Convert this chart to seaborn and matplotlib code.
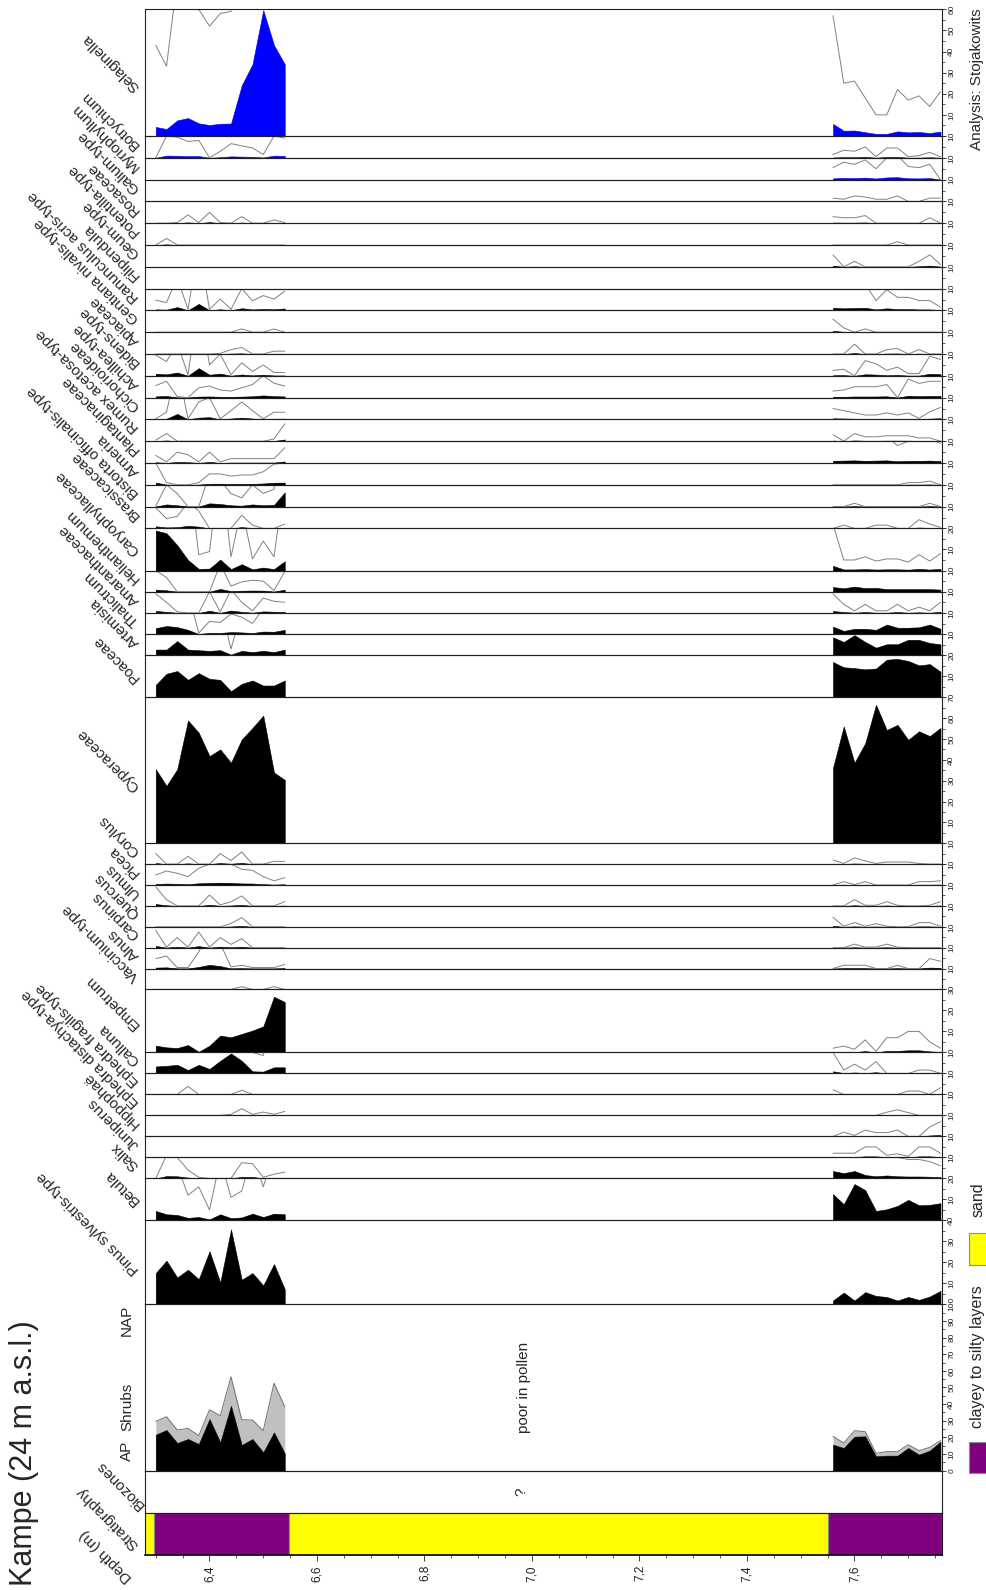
# %%
import numpy as np
import pandas as pd
import seaborn as sns
import matplotlib.pyplot as plt
from matplotlib.patches import Rectangle
from matplotlib.ticker import MultipleLocator

sns.set_style("white")
plt.rcParams['font.family'] = ['Liberation Sans', 'DejaVu Sans']

# %% sample depths (m): upper pollen-bearing block, lower block
depth_upper = [6.30, 6.32, 6.34, 6.36, 6.38, 6.40, 6.42, 6.44, 6.46, 6.48, 6.50, 6.52, 6.54]
depth_lower = [7.56, 7.58, 7.60, 7.62, 7.64, 7.66, 7.68, 7.70, 7.72, 7.74, 7.76]

# %% percentages (13 upper samples, then 11 lower samples)
selaginella = [4.3, 3.3, 7.4, 8.5, 6.0, 5.2, 5.8, 5.9, 24.0, 34.0, 59.6, 43.0, 34.0,
               5.7, 2.5, 2.6, 1.8, 1.0, 1.0, 2.2, 1.7, 1.9, 1.4, 2.1]
botrychium = [0.0, 1.0, 0.95, 0.75, 0.8, 0.0, 0.3, 0.65, 0.55, 0.45, 0.15, 1.0, 0.9,
              0.15, 0.35, 0.3, 0.5, 0.05, 0.45, 0.45, 0.05, 0.1, 0.25, 0.05]
myriophyllum = [0.0, 0.0, 0.0, 0.0, 0.0, 0.0, 0.0, 0.0, 0.0, 0.0, 0.0, 0.0, 0.0,
                0.55, 0.8, 0.7, 0.9, 0.5, 1.0, 1.1, 0.6, 0.55, 0.7, 0.0]
galium = [0.0, 0.0, 0.0, 0.0, 0.0, 0.0, 0.0, 0.0, 0.0, 0.0, 0.0, 0.0, 0.0,
          0.15, 0.1, 0.25, 0.2, 0.1, 0.1, 0.25, 0.0, 0.0, 0.15, 0.15]
rosaceae = [0.0, 0.0, 0.03, 0.38, 0.03, 0.5, 0.03, 0.0, 0.3, 0.0, 0.0, 0.15, 0.03,
            0.3, 0.25, 0.25, 0.35, 0.0, 0.0, 0.0, 0.0, 0.0, 0.25, 0.0]
potentilla = [0.0, 0.3, 0.0, 0.0, 0.0, 0.0, 0.0, 0.0, 0.0, 0.0, 0.0, 0.0, 0.0,
              0.0, 0.0, 0.0, 0.0, 0.0, 0.0, 0.15, 0.0, 0.0, 0.0, 0.0]
geum = [0.0, 0.0, 0.0, 0.0, 0.0, 0.0, 0.0, 0.0, 0.0, 0.0, 0.0, 0.0, 0.0,
        0.55, 0.0, 0.25, 0.0, 0.0, 0.0, 0.0, 0.0, 0.25, 0.55, 0.1]
filipendula = [0.0, 0.0, 0.0, 0.0, 0.0, 0.0, 0.0, 0.0, 0.0, 0.0, 0.0, 0.0, 0.0,
               0.0, 0.0, 0.0, 0.0, 0.0, 0.0, 0.0, 0.0, 0.0, 0.0, 0.0]
ranunculus = [0.47, 0.36, 1.5, 0.05, 3.0, 0.05, 0.52, 0.05, 1.0, 0.44, 0.68, 0.52, 0.88,
              1.2, 0.95, 1.1, 1.2, 0.45, 0.95, 0.6, 0.6, 0.45, 0.45, 0.15]
gentiana = [0.0, 0.0, 0.0, 0.0, 0.0, 0.0, 0.0, 0.0, 0.15, 0.0, 0.0, 0.15, 0.0,
            0.6, 0.2, 0.0, 0.15, 0.0, 0.0, 0.0, 0.0, 0.0, 0.0, 0.0]
apiaceae = [0.0, 0.0, 0.0, 0.0, 0.0, 0.0, 0.03, 0.2, 0.3, 0.0, 0.0, 0.13, 0.13,
            0.0, 0.0, 0.45, 0.0, 0.0, 0.2, 0.25, 0.0, 0.2, 0.0, 0.0]
bidens = [0.95, 0.65, 1.5, 0.05, 3.5, 0.5, 1.0, 0.05, 0.6, 0.2, 0.5, 0.15, 0.15,
          0.25, 0.3, 0.0, 0.7, 0.55, 0.25, 0.4, 0.1, 0.1, 0.9, 0.75]
achillea = [0.55, 0.75, 0.05, 0.0, 0.45, 0.53, 0.35, 0.3, 0.45, 0.6, 1.0, 0.66, 0.53,
            0.3, 0.35, 0.5, 0.5, 0.5, 0.6, 0.0, 0.85, 0.65, 0.75, 0.75]
cichorioideae = [0.03, 0.33, 2.5, 0.03, 0.8, 1.0, 0.03, 0.4, 0.8, 0.4, 0.03, 0.33, 0.33,
                 0.5, 0.4, 0.3, 0.2, 0.2, 0.3, 0.2, 0.3, 0.05, 0.35, 0.55]
rumex = [0.05, 0.35, 0.0, 0.0, 0.0, 0.0, 0.0, 0.0, 0.0, 0.0, 0.0, 0.1, 0.8,
         0.3, 0.0, 0.35, 0.2, 0.2, 0.25, 0.25, 0.25, 0.15, 0.15, 0.0]
plantaginaceae = [0.35, 0.05, 0.5, 0.38, 0.05, 0.5, 0.05, 0.2, 0.2, 0.2, 0.2, 0.2, 0.7,
                  1.0, 1.1, 1.2, 1.0, 1.1, 1.2, 0.8, 1.0, 1.0, 1.1, 0.9]
armeria = [1.0, 0.1, 0.0, 0.0, 0.1, 0.5, 0.5, 0.4, 0.45, 0.45, 0.6, 0.95, 1.0,
           0.0, 0.0, 0.0, 0.0, 0.0, 0.0, 0.0, 0.1, 0.1, 0.17, 0.0]
bistorta = [0.03, 1.0, 0.6, 0.0, 0.0, 1.5, 1.2, 0.6, 0.4, 1.0, 0.6, 0.8, 6.5,
            0.0, 0.0, 0.15, 0.0, 0.0, 0.0, 0.0, 0.0, 0.0, 0.15, 0.0]
brassicaceae = [0.95, 0.45, 0.55, 1.2, 0.8, 0.0, 0.0, 0.0, 0.6, 0.15, 0.0, 0.0, 0.2,
                0.0, 0.15, 0.0, 0.0, 0.15, 0.15, 0.0, 0.0, 0.4, 0.2, 0.05]
caryophyllaceae = [19.0, 17.7, 12.0, 5.0, 0.75, 0.9, 5.2, 0.65, 3.0, 0.55, 1.4, 0.65, 4.4,
                   2.2, 0.5, 0.5, 0.65, 0.45, 0.55, 0.55, 0.4, 0.75, 0.45, 0.8]
helianthemum = [1.0, 0.67, 0.0, 0.0, 0.0, 0.0, 1.3, 0.27, 0.46, 0.54, 0.5, 0.06, 0.95,
                2.2, 1.6, 2.4, 1.7, 1.8, 1.2, 1.2, 1.2, 1.2, 1.2, 1.0]
amaranthaceae = [0.9, 0.5, 0.05, 0.0, 0.0, 1.0, 0.05, 1.1, 0.5, 0.1, 0.7, 0.55, 0.5,
                 0.9, 0.4, 0.1, 0.4, 0.1, 0.1, 0.4, 0.1, 0.27, 0.1, 0.5]
thalictrum = [2.8, 3.8, 3.3, 2.0, 0.05, 0.6, 0.55, 0.95, 0.8, 0.5, 1.2, 1.1, 2.0,
              3.5, 1.5, 2.5, 2.5, 2.0, 4.5, 3.0, 3.0, 3.2, 4.5, 2.5]
artemisia = [2.7, 2.7, 6.7, 2.7, 2.4, 2.1, 2.4, 0.3, 2.1, 1.5, 2.1, 1.5, 2.7,
             8.5, 6.3, 9.5, 6.3, 3.6, 5.2, 5.2, 7.3, 7.3, 5.8, 5.2]
poaceae = [5.9, 11.2, 12.5, 8.3, 11.5, 8.8, 8.3, 2.9, 6.4, 8.0, 5.6, 5.6, 8.0,
           16.8, 14.3, 13.9, 13.3, 13.7, 17.9, 18.3, 17.3, 15.2, 15.8, 12.2]
cyperaceae = [35.5, 27.5, 35.5, 58.9, 53.0, 41.8, 45.0, 38.6, 49.8, 55.3, 61.2, 33.9, 30.4,
              36.2, 56.0, 38.6, 48.0, 66.4, 54.3, 56.8, 49.6, 53.7, 51.4, 55.3]
corylus = [0.5, 0.0, 0.0, 0.37, 0.0, 0.0, 0.5, 0.17, 0.58, 0.0, 0.0, 0.13, 0.13,
           0.2, 0.03, 0.3, 0.15, 0.03, 0.1, 0.1, 0.1, 0.03, 0.0, 0.0]
picea = [0.48, 0.67, 0.56, 0.4, 0.8, 1.0, 1.1, 1.0, 0.75, 0.7, 0.4, 0.2, 0.35,
         0.0, 0.16, 0.02, 0.16, 0.0, 0.0, 0.0, 0.0, 0.16, 0.16, 0.2]
ulmus = [0.9, 0.3, 0.0, 0.0, 0.0, 0.52, 0.05, 0.2, 0.48, 0.0, 0.0, 0.0, 0.2,
         0.0, 0.0, 0.3, 0.03, 0.03, 0.2, 0.03, 0.0, 0.0, 0.03, 0.2]
quercus = [0.0, 0.0, 0.0, 0.0, 0.0, 0.0, 0.0, 0.16, 0.44, 0.0, 0.0, 0.0, 0.0,
           0.45, 0.03, 0.2, 0.03, 0.15, 0.03, 0.0, 0.0, 0.2, 0.2, 0.03]
carpinus = [0.83, 0.03, 0.48, 0.03, 0.75, 0.03, 0.48, 0.16, 0.43, 0.0, 0.0, 0.0, 0.0,
            0.0, 0.0, 0.17, 0.03, 0.03, 0.17, 0.03, 0.0, 0.0, 0.0, 0.0]
alnus = [0.48, 0.6, 0.05, 0.05, 0.8, 1.8, 1.2, 0.08, 0.16, 0.05, 0.05, 0.05, 0.2,
         0.0, 0.16, 0.16, 0.16, 0.0, 0.0, 0.16, 0.0, 0.0, 0.48, 0.35]
vaccinium = [0.0, 0.0, 0.0, 0.0, 0.0, 0.0, 0.0, 0.0, 0.13, 0.0, 0.0, 0.13, 0.0,
             0.0, 0.0, 0.0, 0.0, 0.0, 0.0, 0.0, 0.0, 0.0, 0.0, 0.0]
empetrum = [3.2, 2.4, 2.1, 3.5, 0.3, 3.2, 8.0, 7.2, 8.8, 10.4, 12.4, 26.5, 24.0,
            0.2, 0.3, 0.15, 0.6, 0.05, 0.7, 0.7, 1.0, 1.0, 0.5, 0.2]
calluna = [3.3, 3.6, 4.1, 1.6, 4.1, 2.1, 6.0, 9.5, 6.0, 1.0, 0.85, 2.9, 2.9,
           1.0, 0.16, 0.44, 0.16, 0.56, 0.0, 0.0, 0.0, 0.16, 0.16, 0.0]
ephedra_fragilis = [0.0, 0.0, 0.0, 0.38, 0.0, 0.0, 0.0, 0.0, 0.2, 0.0, 0.0, 0.0, 0.0,
                    0.22, 0.0, 0.0, 0.0, 0.0, 0.0, 0.0, 0.16, 0.16, 0.0, 0.32]
ephedra_distachya = [0.0, 0.0, 0.0, 0.0, 0.0, 0.0, 0.0, 0.05, 0.32, 0.05, 0.16, 0.05, 0.19,
                     0.0, 0.0, 0.0, 0.0, 0.0, 0.15, 0.27, 0.13, 0.0, 0.0, 0.0]
hippophae = [0.0, 0.0, 0.0, 0.0, 0.0, 0.0, 0.0, 0.0, 0.0, 0.0, 0.0, 0.0, 0.0,
             0.0, 0.2, 0.05, 0.3, 0.18, 0.18, 0.3, 0.0, 0.0, 0.45, 0.7]
juniperus = [0.0, 0.0, 0.0, 0.0, 0.0, 0.0, 0.0, 0.0, 0.0, 0.0, 0.0, 0.0, 0.0,
             0.2, 0.2, 0.2, 0.5, 0.5, 0.1, 0.17, 0.05, 0.5, 0.5, 0.2]
salix = [0.0, 1.1, 1.0, 0.4, 0.05, 0.0, 0.0, 0.0, 0.75, 0.7, 0.05, 0.2, 0.3,
         3.5, 2.5, 3.5, 1.6, 1.0, 1.4, 1.0, 0.9, 0.9, 0.8, 0.6]
betula = [4.5, 2.9, 2.6, 1.2, 1.6, 0.5, 2.9, 1.1, 1.4, 3.2, 1.6, 3.2, 2.9,
          12.5, 7.7, 17.3, 14.4, 4.5, 5.3, 6.9, 9.8, 7.2, 7.4, 8.2]
pinus = [14.9, 20.8, 12.8, 16.5, 12.0, 25.3, 10.4, 35.7, 11.7, 14.9, 9.0, 19.2, 7.2,
         1.8, 5.6, 1.8, 5.8, 4.0, 3.5, 1.8, 3.5, 2.1, 3.7, 6.4]

# summary diagram: trees (AP) and shrubs
ap_trees = [21.6, 24.4, 16.6, 19.0, 16.0, 31.0, 17.0, 39.0, 15.4, 19.0, 11.0, 23.0, 10.4,
            15.6, 13.6, 20.4, 20.6, 8.6, 9.0, 9.0, 13.6, 9.6, 12.0, 17.4]
ap_shrubs = [8.0, 8.0, 7.8, 6.4, 5.0, 5.6, 16.0, 17.4, 15.2, 11.4, 13.0, 29.6, 28.0,
             5.0, 3.0, 3.6, 2.8, 1.8, 2.4, 2.4, 2.0, 2.4, 2.0, 0.6]

# lithology
strat_top = [6.28, 6.297, 6.548, 7.551]
strat_base = [6.297, 6.548, 7.551, 7.7628]
strat_unit = ["sand", "clay", "sand", "clay"]

taxa_names = ["Selaginella", "Botrychium", "Myriophyllum", "Galium-type", "Rosaceae",
              "Potentilla-type", "Geum-type", "Filipendula", "Ranunculus acris-type",
              "Gentiana nivalis-type", "Apiaceae", "Bidens-type", "Achillea-type",
              "Cichorioideae", "Rumex acetosa-type", "Plantaginaceae", "Armeria",
              "Bistorta officinalis-type", "Brassicaceae", "Caryophyllaceae", "Helianthemum",
              "Amaranthaceae", "Thalictrum", "Artemisia", "Poaceae", "Cyperaceae",
              "Corylus", "Picea", "Ulmus", "Quercus", "Carpinus", "Alnus", "Vaccinium-type",
              "Empetrum", "Calluna", "Ephedra fragilis-type", "Ephedra distachya-type",
              "Hippophaë", "Juniperus", "Salix", "Betula", "Pinus sylvestris-type"]
taxa_values = [selaginella, botrychium, myriophyllum, galium, rosaceae, potentilla, geum,
               filipendula, ranunculus, gentiana, apiaceae, bidens, achillea, cichorioideae,
               rumex, plantaginaceae, armeria, bistorta, brassicaceae, caryophyllaceae,
               helianthemum, amaranthaceae, thalictrum, artemisia, poaceae, cyperaceae,
               corylus, picea, ulmus, quercus, carpinus, alnus, vaccinium, empetrum, calluna,
               ephedra_fragilis, ephedra_distachya, hippophae, juniperus, salix, betula, pinus]
taxa_scale = [60, 10, 10, 10, 10, 10, 10, 10, 10, 10, 10, 10, 10, 10, 10, 10, 10, 10, 10, 20,
              10, 10, 10, 10, 20, 70, 10, 10, 10, 10, 10, 10, 10, 30, 10, 10, 10, 10, 10, 10,
              20, 40]
blue_taxa = ["Selaginella", "Botrychium", "Myriophyllum"]
# 10x exaggeration curve is not drawn for these (whole taxon / upper block only)
no_exag = ["Pinus sylvestris-type", "Cyperaceae", "Poaceae"]
no_exag_upper = ["Empetrum"]

# %% layout (pixels from top of a 987 x 1590 canvas)
W, H = 987.0, 1590.0
X0, X1 = 145.0, 942.0
XLIM = (6.28, 7.7628)
panel_edges = [9.3, 136.0, 157.8, 179.6, 201.4, 223.2, 245.0, 266.8, 288.6, 310.4, 332.2,
               354.0, 375.8, 397.6, 419.4, 441.2, 463.0, 484.8, 506.6, 528.4, 570.5, 591.7,
               612.9, 634.1, 655.3, 697.3, 843.2, 864.1, 885.0, 905.9, 926.8, 947.7, 968.6,
               989.4, 1052.4, 1073.4, 1094.4, 1115.4, 1136.4, 1157.4, 1178.4, 1220.4, 1304.3]
AP_BOTTOM, BIO_BOTTOM, STRAT_BOTTOM = 1470.6, 1512.6, 1554.6

depth_all = depth_upper + depth_lower
group_all = ["upper"] * len(depth_upper) + ["lower"] * len(depth_lower)

fig = plt.figure(figsize=(W / 100, H / 100), dpi=100)


def fx(x):
    return x / W


def fy(y):
    return 1 - y / H


def px_axes(top, bottom):
    return fig.add_axes([X0 / W, 1 - bottom / H, (X1 - X0) / W, (bottom - top) / H])


def frame(ax):
    for sp in ax.spines.values():
        sp.set_visible(True)
        sp.set_linewidth(0.8)
        sp.set_color("#1e1e1e")
        sp.set_zorder(4)
    ax.set_facecolor("none")
    ax.set_xlim(*XLIM)
    ax.set_xlabel("")
    ax.set_ylabel("")


def right_scale(ax, ymax, first=10):
    ax.set_ylim(0, ymax)
    ax.set_xticks([])
    ax.set_yticks(np.arange(first, ymax + 1, 10))
    ax.yaxis.set_minor_locator(MultipleLocator(5))
    ax.tick_params(axis="y", which="major", right=True, left=False, labelright=True,
                   labelleft=False, direction="out", length=3, width=0.6, labelsize=6,
                   pad=1.5, labelrotation=90, colors="#1e1e1e")
    ax.tick_params(axis="y", which="minor", right=True, left=False, direction="out",
                   length=2, width=0.5, colors="#1e1e1e")
    for lab in ax.get_yticklabels():
        lab.set_va("center")


# %% taxon panels
for i, (name, vals, vmax) in enumerate(zip(taxa_names, taxa_values, taxa_scale)):
    top, bottom = panel_edges[i], panel_edges[i + 1]
    ax = px_axes(top, bottom)
    df_t = pd.DataFrame({"depth": depth_all, "pct": vals, "group": group_all})
    df_t["exag"] = df_t["pct"] * 10
    fill = "#0000ff" if name in blue_taxa else "black"
    for _, sub in df_t.groupby("group", sort=False):
        ax.fill_between(sub["depth"], 0, sub["pct"], color=fill, lw=0.4, zorder=2)
    if name not in no_exag:
        df_line = df_t[df_t["group"] == "lower"] if name in no_exag_upper else df_t
        sns.lineplot(data=df_line, x="depth", y="exag", units="group", estimator=None,
                     color="#808080", lw=0.7, ax=ax, legend=False, zorder=3)
    frame(ax)
    right_scale(ax, vmax)

    h = bottom - top
    ylab = (top + bottom) / 2 + 0.15 * (h - 21)
    fig.text(fx(137), fy(ylab), name, rotation=135, rotation_mode="anchor",
             ha="left", va="center", fontsize=11)

# %% summary diagram AP / Shrubs / NAP
ax = px_axes(panel_edges[-1], AP_BOTTOM)
df_ap = pd.DataFrame({"depth": depth_all, "trees": ap_trees, "shrubs": ap_shrubs,
                      "group": group_all})
df_ap["woody"] = df_ap["trees"] + df_ap["shrubs"]
for _, sub in df_ap.groupby("group", sort=False):
    ax.fill_between(sub["depth"], sub["trees"], sub["woody"], color="#c0c0c0", lw=0, zorder=2)
    ax.fill_between(sub["depth"], 0, sub["trees"], color="black", lw=0.4, zorder=2)
sns.lineplot(data=df_ap, x="depth", y="woody", units="group", estimator=None,
             color="#707070", lw=0.7, ax=ax, legend=False, zorder=3)
frame(ax)
right_scale(ax, 100, first=0)
ax.text(6.985, 50, "poor in pollen", rotation=90, ha="center", va="center", fontsize=11)
for txt, ypx in [("AP", 1451), ("Shrubs", 1407), ("NAP", 1320)]:
    fig.text(fx(127), fy(ypx), txt, rotation=90, ha="center", va="center", fontsize=11)

# %% biozones
ax = px_axes(AP_BOTTOM, BIO_BOTTOM)
frame(ax)
ax.set_xticks([])
ax.set_yticks([])
ax.text(6.98, 0.5, "?", rotation=90, ha="center", va="center", fontsize=11,
        transform=ax.get_xaxis_transform())

# %% stratigraphy + depth axis
ax = px_axes(BIO_BOTTOM, STRAT_BOTTOM)
strat_colors = {"sand": "#ffff00", "clay": "#800080"}
ax.barh(y=[0.5] * len(strat_top), width=np.array(strat_base) - np.array(strat_top),
        left=strat_top, height=1.0, color=[strat_colors[u] for u in strat_unit],
        edgecolor="#8c8c8c", lw=0.8, zorder=2)
frame(ax)
ax.set_ylim(0, 1)
ax.set_yticks([])
depth_ticks = [6.4, 6.6, 6.8, 7.0, 7.2, 7.4, 7.6]
ax.set_xticks(depth_ticks)
ax.set_xticklabels([f"{d:.1f}".replace(".", ",") for d in depth_ticks])
ax.xaxis.set_minor_locator(MultipleLocator(0.05))
ax.tick_params(axis="x", which="major", bottom=True, direction="out", length=4, width=0.6,
               labelsize=8.5, labelrotation=90, pad=3.5, colors="#1e1e1e")
ax.tick_params(axis="x", which="minor", bottom=True, direction="out", length=2.5, width=0.5,
               colors="#1e1e1e")
ax.spines["bottom"].set_color("black")
ax.spines["bottom"].set_linewidth(1.2)

for txt, (xp, yp) in [("Biozones", (142, 1507)), ("Stratigraphy", (136, 1547)),
                      ("Depth (m)", (130, 1580))]:
    fig.text(fx(xp), fy(yp), txt, rotation=135, rotation_mode="anchor",
             ha="left", va="center", fontsize=11)

# %% title, credits, legend
fig.text(fx(24), fy(1586), "Kampe (24 m a.s.l.)", rotation=90, rotation_mode="anchor",
         ha="left", va="center", fontsize=22)
fig.text(fx(977), fy(8), "Analysis: Stojakowits", rotation=90, rotation_mode="anchor",
         ha="right", va="center", fontsize=11)

fig.add_artist(Rectangle((fx(969), fy(1473)), 20 / W, 31 / H, transform=fig.transFigure,
                         facecolor="#800080", edgecolor="#8c8c8c", lw=0.8))
fig.text(fx(978), fy(1428), "clayey to silty layers", rotation=90, rotation_mode="anchor",
         ha="left", va="center", fontsize=11.5)
fig.add_artist(Rectangle((fx(969), fy(1265)), 20 / W, 32 / H, transform=fig.transFigure,
                         facecolor="#ffff00", edgecolor="#8c8c8c", lw=0.8))
fig.text(fx(978), fy(1217), "sand", rotation=90, rotation_mode="anchor",
         ha="left", va="center", fontsize=11.5)

fig.savefig("out.png", dpi=100)
